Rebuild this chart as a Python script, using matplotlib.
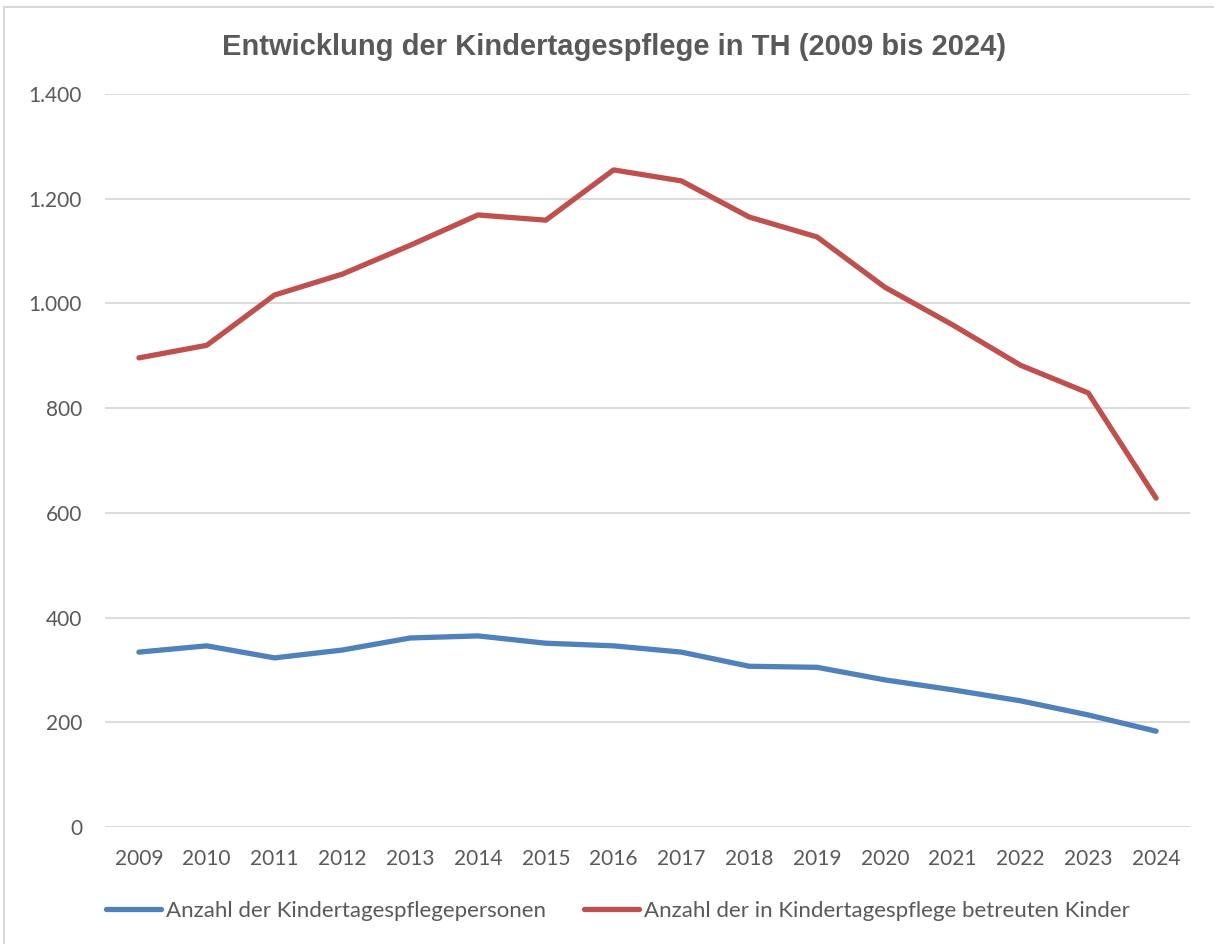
import matplotlib.pyplot as plt
from matplotlib.ticker import FuncFormatter, MultipleLocator
from matplotlib.lines import Line2D

years = ['2009', '2010', '2011', '2012', '2013', '2014', '2015', '2016',
         '2017', '2018', '2019', '2020', '2021', '2022', '2023', '2024']
personen = [334, 346, 323, 338, 361, 365, 351, 346, 334, 307, 305, 281, 262, 241, 214, 183]
kinder = [896, 920, 1016, 1056, 1111, 1169, 1159, 1255, 1234, 1165, 1127, 1031, 959, 882, 829, 628]

label_personen = 'Anzahl der Kindertagespflegepersonen'
label_kinder = 'Anzahl der in Kindertagespflege betreuten Kinder'
title = 'Entwicklung der Kindertagespflege in TH (2009 bis 2024)'

text_col = '#595959'
blue = '#4F81BD'
red = '#C0504D'
tick_font = 'Lato'
fs = 15

fig = plt.figure(figsize=(12.14, 9.44), dpi=100)
ax = fig.add_axes([105 / 1214, 1 - 827 / 944, (1190 - 105) / 1214, (827 - 94) / 944])

x = list(range(len(years)))
ax.plot(x, personen, color=blue, lw=3.8, solid_capstyle='round', solid_joinstyle='round')
ax.plot(x, kinder, color=red, lw=3.8, solid_capstyle='round', solid_joinstyle='round')

ax.set_xlim(-0.5, len(years) - 0.5)
ax.set_ylim(0, 1400)
ax.yaxis.set_major_locator(MultipleLocator(200))
ax.yaxis.set_major_formatter(FuncFormatter(lambda v, p: f'{int(v):,}'.replace(',', '.')))
ax.set_xticks(x)
ax.set_xticklabels(years)

ax.grid(axis='y', color='#D9D9D9', lw=1.3)
ax.set_axisbelow(True)
for s in ax.spines.values():
    s.set_visible(False)
ax.tick_params(length=0, labelcolor=text_col, labelsize=fs)
ax.tick_params(axis='y', pad=16.5)
ax.tick_params(axis='x', pad=16)
for lab in ax.get_xticklabels() + ax.get_yticklabels():
    lab.set_fontfamily(tick_font)

fig.text(0.506, 1 - 47 / 944, title, ha='center', va='center', fontsize=21,
         fontweight='bold', color=text_col, family='Liberation Sans')

handles = [Line2D([], [], color=blue, lw=3.8, solid_capstyle='round'),
           Line2D([], [], color=red, lw=3.8, solid_capstyle='round')]
fig.legend(handles, [label_personen, label_kinder], loc='center',
           bbox_to_anchor=(0.509, 1 - 911 / 944), ncol=2, frameon=False,
           handlelength=2.45, handletextpad=0.22, columnspacing=1.75,
           prop={'family': tick_font, 'size': 16}, labelcolor=text_col)

# chart border (light gray frame)
fig.add_artist(Line2D([4 / 1214, 4 / 1214], [0, 1 - 7 / 944], color='#D9D9D9', lw=1.5))
fig.add_artist(Line2D([4 / 1214, 1], [1 - 7 / 944, 1 - 7 / 944], color='#D9D9D9', lw=1.5))

fig.savefig('out.png', dpi=100)
